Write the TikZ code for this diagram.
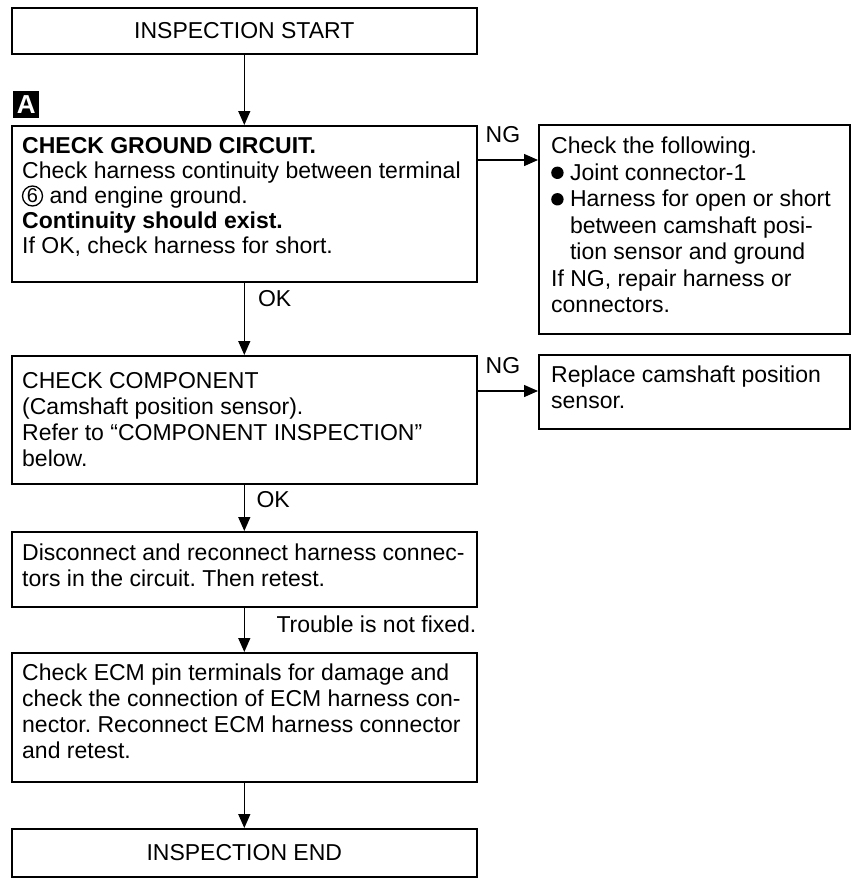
\documentclass[tikz,border=0pt]{standalone}
\usepackage{fontspec}
\setmainfont{Liberation Sans}
\usetikzlibrary{arrows.meta,positioning}
\newcommand{\bul}{\tikz[baseline=0pt]\fill (0.3em,0.33em) circle[radius=0.27em];}

\begin{document}
\frenchspacing
\begin{tikzpicture}[x=1pt,y=-1pt,
  box/.style={draw,line width=1.6pt,anchor=north west,inner sep=0pt,minimum width=465pt,
              font=\fontsize{23}{26}\selectfont},
  sidebox/.style={box,minimum width=311pt},
  txt/.style={anchor=north west,inner sep=0pt,align=left,font=\fontsize{23}{26}\selectfont},
  lbl/.style={inner sep=0pt,font=\fontsize{23}{26}\selectfont},
  arr/.style={-{Triangle[length=14pt,width=12pt]},line width=1.4pt},
]
  \useasboundingbox (0,0) rectangle (858,878);

  % Start
  \node[box,minimum height=46pt] (start) at (11,7) {INSPECTION START};

  % Marker A
  \node[fill=black,text=white,anchor=north west,minimum width=26pt,minimum height=27pt,
        inner sep=0pt,font=\fontsize{26}{26}\selectfont\bfseries] (markA) at (13,91) {A};

  % Ground circuit check
  \node[box,minimum height=156pt] (ground) at (11,125) {};
  \node[txt,font=\fontsize{23}{25}\selectfont] (groundtxt) at (22,137) {\textbf{CHECK GROUND CIRCUIT.}\\
    Check harness continuity between terminal\\
    \hspace*{21pt} and engine ground.\\
    \textbf{Continuity should exist.}\\
    If OK, check harness for short.};
  \node[draw,circle,line width=1.3pt,inner sep=0pt,minimum size=20pt,
        font=\fontsize{20}{20}\selectfont] (six) at (32.5,196) {6};

  % NG branch 1
  \node[sidebox,minimum height=209pt] (follow) at (538,124) {};
  \node[txt,font=\fontsize{23}{26.5}\selectfont] (followtxt) at (551,137) {Check the following.\\
    \bul\ Joint connector-1\\
    \bul\ Harness for open or short\\
    \hphantom{\bul\ }between camshaft posi-\\
    \hphantom{\bul\ }tion sensor and ground\\
    If NG, repair harness or\\
    connectors.};

  % Component check
  \node[box,minimum height=128pt] (comp) at (11,355) {};
  \node[txt] (comptxt) at (22,372) {CHECK COMPONENT\\
    (Camshaft position sensor).\\
    Refer to “COMPONENT INSPECTION”\\
    below.};

  % NG branch 2
  \node[sidebox,minimum height=74pt] (replace) at (538,354) {};
  \node[txt] (replacetxt) at (551,366) {Replace camshaft position\\
    sensor.};

  % Reconnect
  \node[box,minimum height=75pt] (recon) at (11,531) {};
  \node[txt] (recontxt) at (22,544) {Disconnect and reconnect harness connec-\\
    tors in the circuit. Then retest.};

  % ECM check
  \node[box,minimum height=129pt] (ecm) at (11,652) {};
  \node[txt] (ecmtxt) at (22,664) {Check ECM pin terminals for damage and\\
    check the connection of ECM harness con-\\
    nector. Reconnect ECM harness connector\\
    and retest.};

  % End
  \node[box,minimum height=48pt] (finish) at (11,828) {INSPECTION END};

  % Connectors
  \coordinate (ng1) at ([yshift=-35pt]ground.north east);
  \coordinate (ng2) at ([yshift=-36pt]comp.north east);
  \draw[arr] (start) -- (ground);
  \draw[arr] (ground) -- node[lbl,right=13pt,pos=0.22] (ok1) {OK} (comp);
  \draw[arr] (comp) -- node[lbl,right=11.5pt,pos=0.33] (ok2) {OK} (recon);
  \draw[arr] (recon) -- node[lbl,right=31.5pt,pos=0.37] (trouble) {Trouble is not fixed.} (ecm);
  \draw[arr] (ecm) -- (finish);
  \draw[arr] (ng1) -- node[lbl,above=17pt,pos=0.42] (ngA) {NG} (ng1 -| follow.west);
  \draw[arr] (ng2) -- node[lbl,above=17pt,pos=0.42] (ngB) {NG} (ng2 -| replace.west);
\end{tikzpicture}
\end{document}
